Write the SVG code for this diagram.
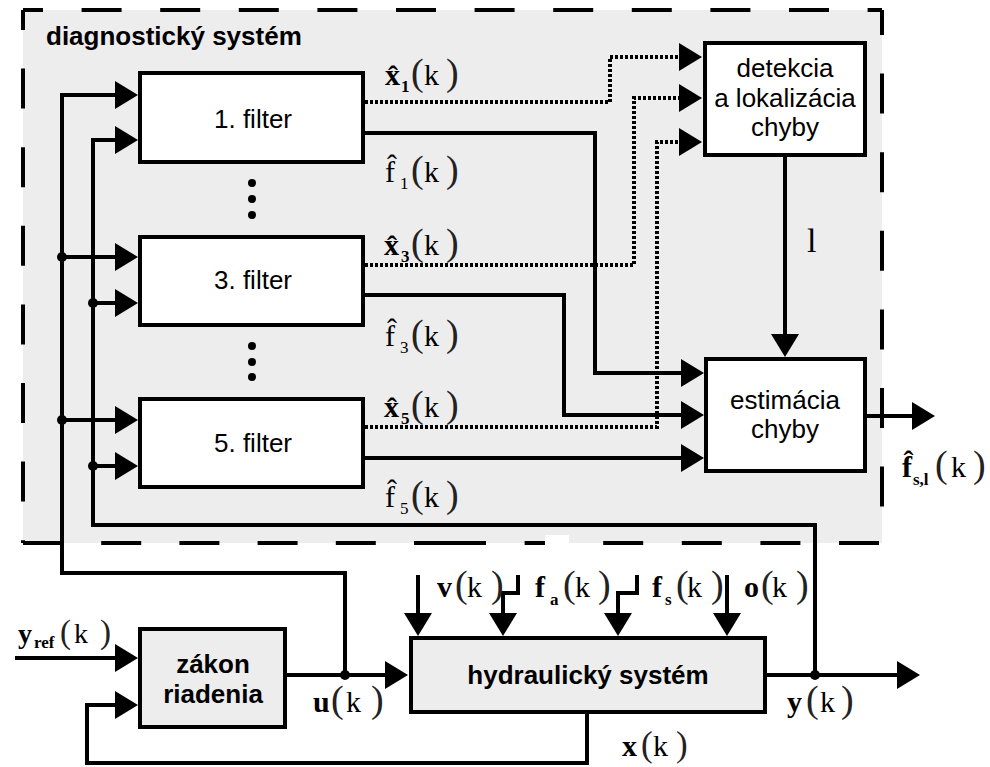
<svg xmlns="http://www.w3.org/2000/svg" width="990" height="767" viewBox="0 0 990 767">
<style>
.ln{fill:none;stroke:#000;stroke-width:4}
.dt{fill:none;stroke:#000;stroke-width:4;stroke-dasharray:3 2}
.dash{fill:none;stroke:#000;stroke-width:4}
.box{fill:#fff;stroke:#000;stroke-width:4}
.gbox{fill:#ededed;stroke:#000;stroke-width:4}
.t{font-family:"Liberation Sans",Arial,sans-serif;font-size:26px;fill:#000}
.tc{text-anchor:middle}
.tb{font-weight:bold}
.m{font-family:"Liberation Serif","Times New Roman",serif;font-size:30px;fill:#000}
.mb{font-weight:bold}
.s{font-size:17px}
.p{font-size:38px;fill:#222;font-weight:normal}
.dot{fill:#000}
</style>
<defs>
<marker id="ah" viewBox="0 -14 23 28" refX="13" refY="0" markerWidth="23" markerHeight="28" markerUnits="userSpaceOnUse" orient="auto">
<path d="M0,-14 L23,0 L0,14 z" fill="#000"/>
</marker>
</defs>
<rect width="990" height="767" fill="#fff"/>

<g id="diagnostic-system">
<rect x="23" y="10" width="859" height="533" fill="#ededed"/>
<path class="dash" d="M23,10 H882" stroke-dasharray="40 38.6" stroke-dashoffset="20"/>
<path class="dash" d="M882,10 V543" stroke-dasharray="40 38.6" stroke-dashoffset="15"/>
<path class="dash" d="M23,10 V543" stroke-dasharray="40 38.6" stroke-dashoffset="20"/>
<path class="dash" d="M23,543 H485" stroke-dasharray="40 38.2"/>
<path class="dash" d="M882,543 H446" stroke-dasharray="40 38.6" stroke-dashoffset="-3"/>
<rect x="545" y="535" width="24" height="11" fill="#fff"/>
<text class="t tb" x="46" y="45">diagnostický systém</text>
</g>

<g id="filter1">
<rect class="box" x="140" y="73" width="223" height="89"/>
<text class="t tc" x="253" y="128">1. filter</text>
</g>
<g id="filter3">
<rect class="box" x="140" y="237" width="223" height="88"/>
<text class="t tc" x="253" y="289">3. filter</text>
</g>
<g id="filter5">
<rect class="box" x="140" y="399" width="223" height="88"/>
<text class="t tc" x="253" y="452">5. filter</text>
</g>
<g id="ellipsis">
<circle class="dot" cx="252" cy="183" r="4"/>
<circle class="dot" cx="252" cy="199" r="4"/>
<circle class="dot" cx="252" cy="215" r="4"/>
<circle class="dot" cx="252" cy="346" r="4"/>
<circle class="dot" cx="252" cy="362" r="4"/>
<circle class="dot" cx="252" cy="377" r="4"/>
</g>
<g id="detection">
<rect class="box" x="705" y="43" width="160" height="112"/>
<text class="t tc" x="785" y="77">detekcia</text>
<text class="t tc" x="785" y="107">a lokalizácia</text>
<text class="t tc" x="785" y="136">chyby</text>
</g>
<g id="estimation">
<rect class="box" x="706" y="359" width="159" height="112"/>
<text class="t tc" x="785" y="409">estimácia</text>
<text class="t tc" x="785" y="438">chyby</text>
</g>
<g id="controller">
<rect class="gbox" x="140" y="629" width="145" height="98"/>
<text class="t tc tb" x="213" y="673">zákon</text>
<text class="t tc tb" x="213" y="703">riadenia</text>
</g>
<g id="hydraulic">
<rect class="gbox" x="411" y="638" width="354" height="74"/>
<text class="t tc tb" x="588" y="684">hydraulický systém</text>
</g>

<g id="connectors">
<path class="ln" d="M345,675 V573 H62 V95 H128" marker-end="url(#ah)"/>
<path class="ln" d="M62,257 H128" marker-end="url(#ah)"/>
<path class="ln" d="M62,420 H128" marker-end="url(#ah)"/>
<path class="ln" d="M815,675 V525 H93 V140 H128" marker-end="url(#ah)"/>
<path class="ln" d="M93,303 H128" marker-end="url(#ah)"/>
<path class="ln" d="M93,466 H128" marker-end="url(#ah)"/>
<path class="dt" d="M365,102 H610 V57 H692" marker-end="url(#ah)"/>
<path class="dt" d="M365,265 H634 V98 H692" marker-end="url(#ah)"/>
<path class="dt" d="M365,427 H657 V142 H692" marker-end="url(#ah)"/>
<path class="ln" d="M365,133 H595 V373 H694" marker-end="url(#ah)"/>
<path class="ln" d="M365,295 H564 V415 H694" marker-end="url(#ah)"/>
<path class="ln" d="M365,458 H694" marker-end="url(#ah)"/>
<path class="ln" d="M785,157 V347" marker-end="url(#ah)"/>
<path class="ln" d="M867,416 H925" marker-end="url(#ah)"/>
<path class="ln" d="M15,658 H128" marker-end="url(#ah)"/>
<path class="ln" d="M587,714 V763 H87 V705 H128" marker-end="url(#ah)"/>
<path class="ln" d="M287,675 H398" marker-end="url(#ah)"/>
<path class="ln" d="M418,575 V626" marker-end="url(#ah)"/>
<path class="ln" d="M518,575 V593 H503 V626" marker-end="url(#ah)"/>
<path class="ln" d="M637,575 V593 H618 V626" marker-end="url(#ah)"/>
<path class="ln" d="M727,575 V626" marker-end="url(#ah)"/>
<path class="ln" d="M767,675 H910" marker-end="url(#ah)"/>
<circle class="dot" cx="62" cy="257" r="5"/>
<circle class="dot" cx="62" cy="420" r="5"/>
<circle class="dot" cx="93" cy="303" r="5"/>
<circle class="dot" cx="93" cy="466" r="5"/>
<circle class="dot" cx="345" cy="675" r="5"/>
<circle class="dot" cx="815" cy="675" r="5"/>
</g>

<g id="labels">
<text class="m" x="385" y="85"><tspan class="mb">x̂</tspan><tspan class="s mb" x="401" y="92">1</tspan><tspan class="p" x="411" y="85">(</tspan><tspan x="424">k</tspan><tspan class="p" x="446">)</tspan></text>
<text class="m" x="385" y="182">f̂<tspan class="s" x="400" y="189">1</tspan><tspan class="p" x="411" y="182">(</tspan><tspan x="424">k</tspan><tspan class="p" x="446">)</tspan></text>
<text class="m" x="384" y="255"><tspan class="mb">x̂</tspan><tspan class="s mb" x="401" y="262">3</tspan><tspan class="p" x="411" y="255">(</tspan><tspan x="424">k</tspan><tspan class="p" x="446">)</tspan></text>
<text class="m" x="385" y="346">f̂<tspan class="s" x="400" y="353">3</tspan><tspan class="p" x="411" y="346">(</tspan><tspan x="424">k</tspan><tspan class="p" x="446">)</tspan></text>
<text class="m" x="384" y="417"><tspan class="mb">x̂</tspan><tspan class="s mb" x="401" y="424">5</tspan><tspan class="p" x="411" y="417">(</tspan><tspan x="424">k</tspan><tspan class="p" x="446">)</tspan></text>
<text class="m" x="385" y="507">f̂<tspan class="s" x="400" y="514">5</tspan><tspan class="p" x="411" y="507">(</tspan><tspan x="424">k</tspan><tspan class="p" x="446">)</tspan></text>
<text class="m" x="807" y="252" style="font-size:34px">l</text>
<text class="m" x="902" y="477"><tspan class="mb">f̂</tspan><tspan class="s mb" x="913" y="485">s,l</tspan><tspan class="p" x="935" y="477">(</tspan><tspan x="951">k</tspan><tspan class="p" x="973">)</tspan></text>
<text class="m" x="18" y="643" style="font-size:28px"><tspan class="mb">y</tspan><tspan class="s mb" x="34" y="648">ref</tspan><tspan class="p" x="60" y="643" style="font-size:33px">(</tspan><tspan x="74">k</tspan><tspan class="p" x="100" style="font-size:33px">)</tspan></text>
<text class="m" x="313" y="712"><tspan class="mb">u</tspan><tspan class="p" x="331">(</tspan><tspan x="346">k</tspan><tspan class="p" x="371">)</tspan></text>
<text class="m" x="437" y="597"><tspan class="mb">v</tspan><tspan class="p" x="455">(</tspan><tspan x="467">k</tspan><tspan class="p" x="491">)</tspan></text>
<text class="m" x="535" y="597"><tspan class="mb">f</tspan><tspan class="s mb" x="550" y="605">a</tspan><tspan class="p" x="563" y="597">(</tspan><tspan x="575">k</tspan><tspan class="p" x="598">)</tspan></text>
<text class="m" x="652" y="597"><tspan class="mb">f</tspan><tspan class="s mb" x="665" y="605">s</tspan><tspan class="p" x="676" y="597">(</tspan><tspan x="687">k</tspan><tspan class="p" x="711">)</tspan></text>
<text class="m" x="744" y="597"><tspan class="mb">o</tspan><tspan class="p" x="761">(</tspan><tspan x="772">k</tspan><tspan class="p" x="796">)</tspan></text>
<text class="m" x="622" y="756"><tspan class="mb">x</tspan><tspan class="p" x="641" style="font-size:35px">(</tspan><tspan x="653">k</tspan><tspan class="p" x="676" style="font-size:35px">)</tspan></text>
<text class="m" x="787" y="712"><tspan class="mb">y</tspan><tspan class="p" x="806">(</tspan><tspan x="820">k</tspan><tspan class="p" x="841">)</tspan></text>
</g>
</svg>
